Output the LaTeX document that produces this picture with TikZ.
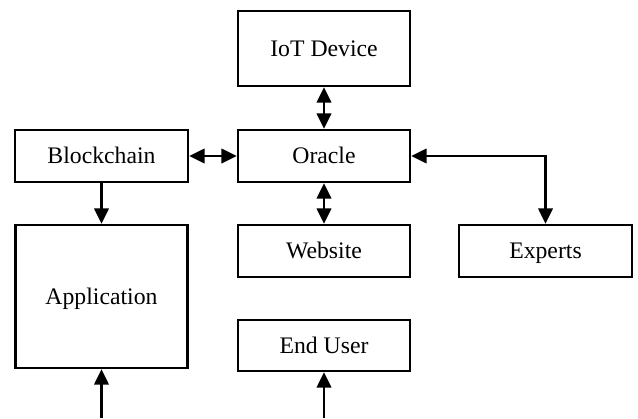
\documentclass[tikz,border=0pt]{standalone}
\usepackage{fontspec}
\setmainfont{Liberation Serif}
\usepackage{tikz}
\usetikzlibrary{positioning,calc}
\usetikzlibrary{arrows.meta}
\tikzset{
  blk/.style={draw=black,fill=white,line width=1.35pt,inner sep=0pt,minimum width=3.44cm,minimum height=1.04cm,
    text height=8.9pt,text depth=0pt,font=\fontsize{13.5}{16}\selectfont},
  link/.style={draw=black,line width=1.35pt,-{Triangle[length=0.31cm,width=0.29cm]}},
  dlink/.style={link,{Triangle[length=0.31cm,width=0.29cm]}-{Triangle[length=0.31cm,width=0.29cm]}},
}

\begin{document}
\begin{tikzpicture}
\useasboundingbox (0,0) rectangle (12.76,8.36);
\node[blk,minimum height=1.5cm](iot) at (6.48,7.39){IoT Device};
\node[blk](orc) at (6.48,5.24){Oracle};
\node[blk,minimum width=3.46cm](bc) at (2.03,5.24){Blockchain};
\node[blk,minimum height=2.86cm](app) at (2.03,2.43){Application};
\node[blk](web) at (6.48,3.34){Website};
\node[blk,minimum width=3.46cm](exp) at (10.91,3.34){Experts};
\node[blk,minimum height=1.02cm](usr) at (6.48,1.45){End User};
\coordinate (in1) at (2.03,0);\coordinate (in2) at (6.48,0);
% links
\draw[dlink] (iot)--(orc);\draw[dlink] (bc)--(orc);\draw[dlink] (orc)--(web);
\draw[dlink] (orc.east) -| (exp.north);
\draw[link] (bc)--(app);
\draw[link] (in1)--(app);\draw[link] (in2)--(usr);
\end{tikzpicture}
\end{document}
